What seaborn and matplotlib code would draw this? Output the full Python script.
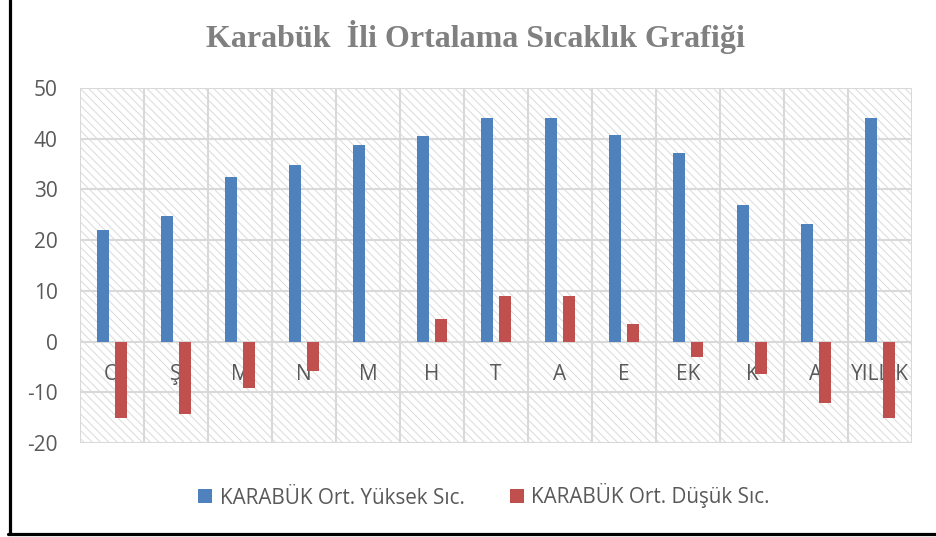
import matplotlib
matplotlib.use("Agg")
import matplotlib.pyplot as plt
from matplotlib.lines import Line2D
from matplotlib.ticker import FixedLocator
import seaborn as sns
import pandas as pd

# ---- data ----
months = ["O", "Ş", "M", "N", "M", "H", "T", "A", "E", "EK", "K", "A", "YILLIK"]
high_vals = [22.0, 24.7, 32.5, 34.8, 38.8, 40.6, 44.0, 44.1, 40.8, 37.2, 26.9, 23.1, 44.1]
low_vals = [-15.1, -14.3, -9.2, -5.8, 0.0, 4.5, 8.9, 8.9, 3.4, -3.1, -6.4, -12.1, -15.1]
series_names = ["KARABÜK Ort. Yüksek Sıc.", "KARABÜK Ort. Düşük Sıc."]
y_ticks = [-20, -10, 0, 10, 20, 30, 40, 50]
title_text = "Karabük  İli Ortalama Sıcaklık Grafiği"

colors = ["#4F81BD", "#C0504D"]
grid_col = "#D9D9D9"
text_col = "#595959"

rows = []
for i, m in enumerate(months):
    rows.append({"idx": i, "Seri": series_names[0], "Değer": high_vals[i]})
    rows.append({"idx": i, "Seri": series_names[1], "Değer": low_vals[i]})
df = pd.DataFrame(rows)

sns.set_style("white")
plt.rcParams["font.family"] = ["Open Sans", "DejaVu Sans"]
plt.rcParams["hatch.linewidth"] = 0.7
plt.rcParams["hatch.color"] = "#DADADA"

W, H = 936, 537
fig = plt.figure(figsize=(W / 100, H / 100), dpi=100)
ax = fig.add_axes([80 / W, 1 - 443 / H, (912 - 80) / W, (443 - 88) / H])

# hatched background
ax.patch.set_facecolor("white")
ax.patch.set_edgecolor("#DADADA")
ax.patch.set_linewidth(0)
ax.patch.set_hatch("\\\\\\\\")

sns.barplot(data=df, x="idx", y="Değer", hue="Seri", hue_order=series_names,
            palette=colors, saturation=1, width=0.56, gap=0.32, dodge=True,
            errorbar=None, linewidth=0, ax=ax, legend=True)

ax.set_xlim(-0.5, len(months) - 0.5)
ax.set_ylim(-20, 50)
ax.set_axisbelow(True)

ax.set_yticks(y_ticks)
ax.set_yticklabels([str(v) for v in y_ticks])
ax.set_xticks(range(len(months)))
ax.set_xticklabels(months)
ax.xaxis.set_minor_locator(FixedLocator([i - 0.5 for i in range(len(months) + 1)]))

ax.grid(axis="y", which="major", color=grid_col, linewidth=1.5)
ax.grid(axis="x", which="major", visible=False)
ax.grid(axis="x", which="minor", color=grid_col, linewidth=1.5)

for s in ax.spines.values():
    s.set_visible(False)
ax.spines["bottom"].set_position(("data", 0))

ax.tick_params(axis="y", length=0, pad=16, labelsize=15, labelcolor=text_col)
ax.tick_params(axis="x", which="major", length=0, pad=16, labelsize=15, labelcolor=text_col)
ax.tick_params(axis="x", which="minor", length=0)
ax.set_xlabel("")
ax.set_ylabel("")

# legend
leg = ax.get_legend()
handles = leg.legend_handles
leg.remove()
fig.legend(handles, series_names, loc="center", bbox_to_anchor=(484 / W, 1 - 496 / H),
           ncol=2, frameon=False, fontsize=14.9, handlelength=0.68, handleheight=0.68,
           handletextpad=0.35, columnspacing=2.2, labelcolor=text_col)

# title
fig.text(476 / W, 1 - 37 / H, title_text, ha="center", va="center",
         family="Liberation Serif", weight="bold", fontsize=23, color="#808080")

# outer frame lines (left and bottom)
fig.add_artist(Line2D([9.5 / W, 9.5 / W], [1 - 534 / H, 1], color="black", linewidth=2.3,
                      transform=fig.transFigure))
fig.add_artist(Line2D([8 / W, 1], [1 - 534 / H, 1 - 534 / H], color="black", linewidth=2.3,
                      transform=fig.transFigure))

fig.savefig("out.png", dpi=100)
